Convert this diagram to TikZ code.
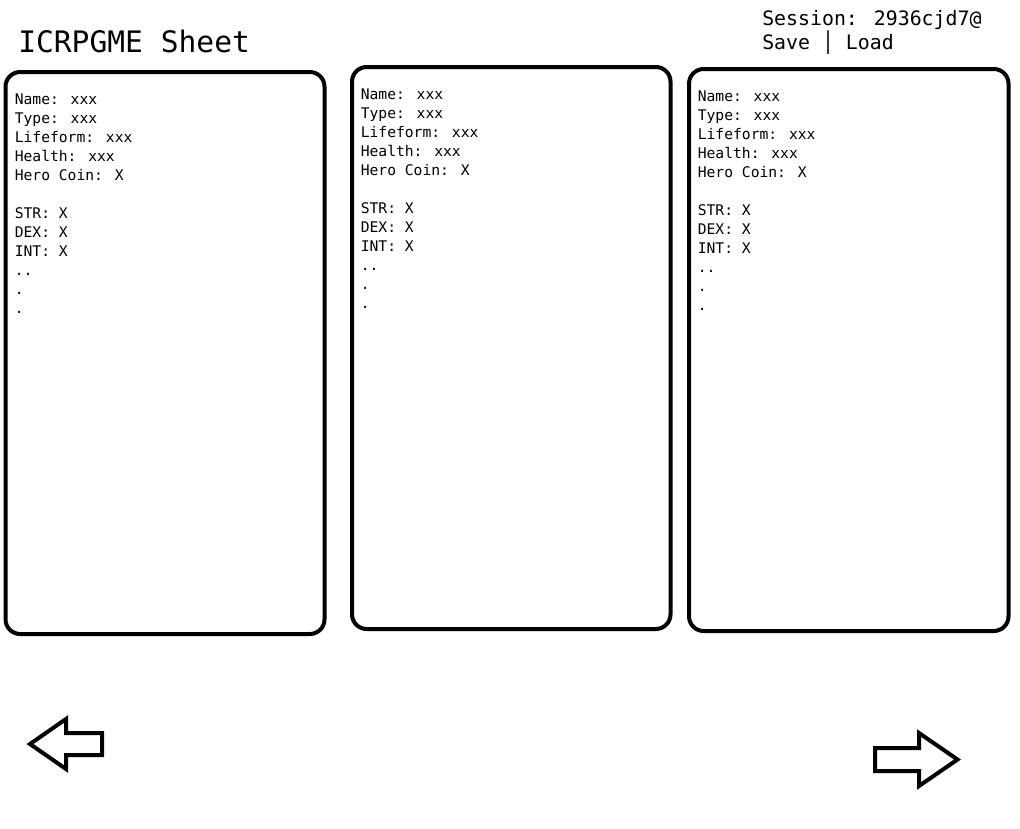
\documentclass[tikz,border=0pt]{standalone}
\usepackage{fontspec}
\newfontfamily\dmono{DejaVu Sans Mono}
\begin{document}
\begin{tikzpicture}[x=0.75pt,y=-0.75pt,
  card/.style={line width=3pt, rounded corners=11pt},
  navarrow/.style={line width=3pt, line join=miter},
  cardtext/.style={anchor=north west, inner sep=0pt, align=left,
    font=\dmono\fontsize{11}{14.25}\selectfont},
  title/.style={anchor=base west, inner sep=0pt, font=\dmono\fontsize{22.2}{26}\selectfont},
  session/.style={anchor=base west, inner sep=0pt, font=\dmono\fontsize{14.9}{17.25}\selectfont}]
\useasboundingbox (0,0) rectangle (1020,828);
\fill[white] (0,0) rectangle (1020,828);

\node[title] (title) at (18,52) {ICRPGME Sheet};
\node[session] (session) at (762,26) {Session: 2936cjd7@};
\node[session] (saveload) at (762,49) {Save │ Load};

\draw[card] (5.5,72) rectangle (324.5,634);
\draw[card] (352,67) rectangle (670.5,629);
\draw[card] (689,69) rectangle (1008.5,631);

\newcommand{\cardlines}{Name: xxx\\Type: xxx\\Lifeform: xxx\\Health: xxx\\Hero Coin: X\\\mbox{}\\STR: X\\DEX: X\\INT: X\\..\\.\\.}
\node[cardtext] (t1) at (14.5,93.3) {\cardlines};
\node[cardtext] (t2) at (360.5,88.3) {\cardlines};
\node[cardtext] (t3) at (697.5,90.3) {\cardlines};

\draw[navarrow] (30,744) -- (66,719) -- (66,733) -- (102,733) -- (102,755) -- (66,755) -- (66,769) -- cycle;
\draw[navarrow] (875,748) -- (919,748) -- (919,733) -- (957.5,759.5) -- (919,786) -- (919,771) -- (875,771) -- cycle;
\end{tikzpicture}
\end{document}
